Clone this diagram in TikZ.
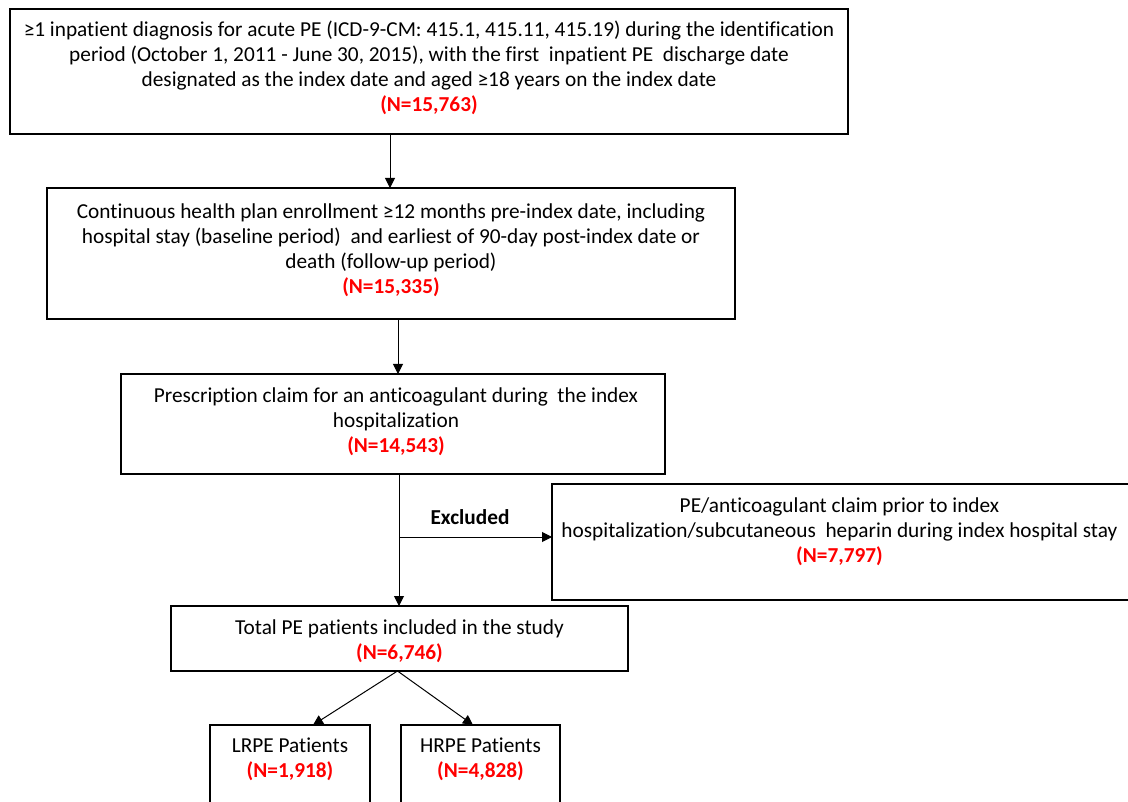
\documentclass[tikz,border=0pt]{standalone}
\usepackage{fontspec}
\setmainfont[Ligatures={NoCommon}]{Carlito}
\usetikzlibrary{arrows.meta}
\tikzset{
  box/.style={draw, line width=2pt, inner sep=0pt, outer sep=0pt},
  txt/.style={anchor=north, align=center, inner sep=0pt, font=\fontsize{21.3}{25}\selectfont},
  arr/.style={line width=1pt, -{Triangle[length=10pt,width=10pt]}}
}
\newcommand{\nred}[1]{{\bfseries\color{red}#1}}
\begin{document}
\begin{tikzpicture}[x=1pt,y=-1pt]
\useasboundingbox (0,0) rectangle (1128,802);
\clip (0,0) rectangle (1128,802);
\fill[white] (0,0) rectangle (1128,802);
% boxes
\node[box, minimum width=838pt, minimum height=125pt] (b1) at (429,71.5) {};
\node[box, minimum width=688pt, minimum height=131pt] (b2) at (391,253.5) {};
\node[box, minimum width=544pt, minimum height=100pt] (b3) at (393,424) {};
\node[box, minimum width=590pt, minimum height=116pt] (bx) at (847,542) {};
\node[box, minimum width=457pt, minimum height=65pt] (b4) at (399.5,638.5) {};
\node[box, minimum width=160pt, minimum height=115pt] (bl) at (290,782.5) {};
\node[box, minimum width=159pt, minimum height=115pt] (bh) at (480.5,782.5) {};
% texts
\node[txt] (t1) at ([yshift=-12pt]b1.north) {≥1 inpatient diagnosis for acute PE (ICD-9-CM: 415.1, 415.11, 415.19) during the identification\\ period (October 1, 2011 - June 30, 2015), with the first\ \ inpatient PE\ \ discharge date\\ designated as the index date and aged ≥18 years on the index date\\ \nred{(N=15,763)}};
\node[txt] (t2) at ([yshift=-16pt]b2.north) {Continuous health plan enrollment ≥12 months pre-index date, including\\ hospital stay (baseline period)\ \ and earliest of 90-day post-index date or\\ death (follow-up period)\\ \nred{(N=15,335)}};
\node[txt] (t3) at ([yshift=-14pt,xshift=3pt]b3.north) {Prescription claim for an anticoagulant during\ \ the index\\ hospitalization\\ \nred{(N=14,543)}};
\node[txt] (tx) at ([yshift=-14pt,xshift=-7.5pt]bx.north) {PE/anticoagulant claim prior to index\\ hospitalization/subcutaneous\ \ heparin during index hospital stay\\ \nred{(N=7,797)}};
\node[txt] (t4) at ([yshift=-14pt]b4.north) {Total PE patients included in the study\\ \nred{(N=6,746)}};
\node[txt] (tl) at ([yshift=-13pt]bl.north) {LRPE Patients\\ \nred{(N=1,918)}};
\node[txt] (th) at ([yshift=-13pt]bh.north) {HRPE Patients\\ \nred{(N=4,828)}};
% connectors
\draw[arr] ([xshift=-39pt]b1.south) -- ([xshift=-39pt]b1.south |- b2.north);
\draw[arr] ([xshift=7pt]b2.south) -- ([xshift=7pt]b2.south |- b3.north);
\draw[arr] ([xshift=6pt]b3.south) -- ([xshift=6pt]b3.south |- b4.north);
\coordinate (j) at ([xshift=6pt]b3.south |- 0,537);
\draw[arr] (j) -- (bx.west |- j);
\node[font=\fontsize{21.3}{25}\selectfont\bfseries, inner sep=0pt] (ex) at (470,517) {Excluded};
\draw[arr] ([xshift=-2pt]b4.south) -- ([xshift=23pt]bl.north);
\draw[arr] ([xshift=-2pt]b4.south) -- ([xshift=-7.5pt]bh.north);
\end{tikzpicture}
\end{document}
